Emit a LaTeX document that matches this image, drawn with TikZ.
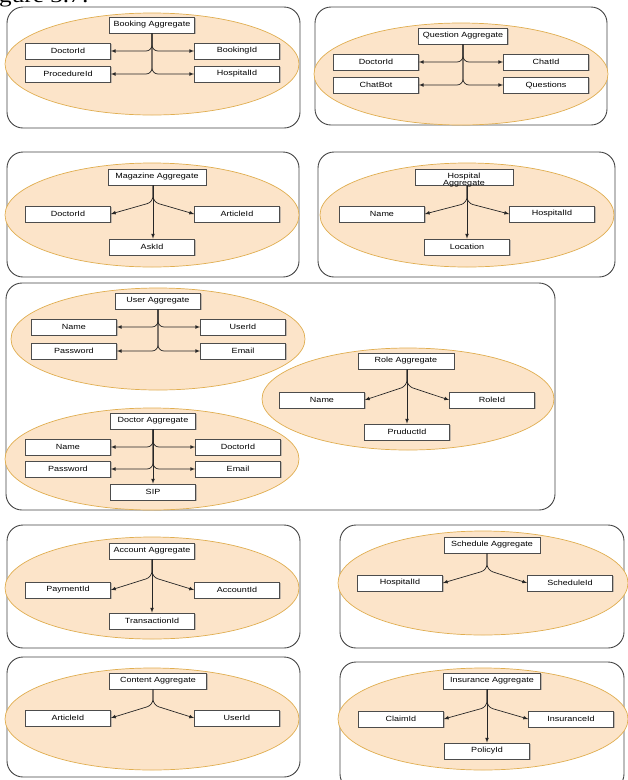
\documentclass[tikz,border=0pt]{standalone}
\usepackage{fontspec}
\setmainfont{Liberation Sans}[FakeStretch=1.2]
\newfontfamily\capfont{Liberation Serif}[FakeStretch=1.2]
\usetikzlibrary{shadows}
\definecolor{aggfill}{HTML}{FCE4C9}
\definecolor{aggline}{HTML}{E0AE50}
\definecolor{panelline}{HTML}{444444}
\begin{document}
\begin{tikzpicture}[x=1pt,y=-1pt,
panel/.style={draw=panelline,line width=.9pt,rounded corners=16pt,fill=white},
agg/.style={draw=aggline,fill=aggfill,line width=.7pt},
attr/.style={draw=black!70,fill=white,line width=.6pt,minimum width=85pt,minimum height=16pt,inner sep=1pt,font=\fontsize{7.5}{8}\selectfont,drop shadow={shadow xshift=1.2pt,shadow yshift=-1.2pt,fill=black!45}},
link/.style={draw=black!85,line width=.7pt,-latex,rounded corners=6pt}]
\useasboundingbox (0,0) rectangle (628,780);
\node[anchor=base west,inner sep=0,font=\fontsize{21}{21}\capfont] (cap) at (-1,2) {gure 3.7:};
% Booking
\draw[panel] (7,7) rectangle (300,128);
\draw[agg] (152,64) ellipse [x radius=147pt,y radius=51pt];
\node[attr] (bkagg) at (152,25) {Booking Aggregate};
\node[attr] (bkdoc) at (68,51) {DoctorId};
\node[attr] (bkproc) at (68,74) {ProcedureId};
\node[attr] (bkid) at (237,51) {BookingId};
\node[attr] (bkhosp) at (237,74) {HospitalId};
\foreach \t in {bkdoc,bkproc} \draw[link] (bkagg.south) |- (\t.east);
\foreach \t in {bkid,bkhosp} \draw[link] (bkagg.south) |- (\t.west);
% Question
\draw[panel] (315,7) rectangle (607,125);
\draw[agg] (461,74) ellipse [x radius=147pt,y radius=51pt];
\node[attr,minimum width=89pt] (qsagg) at (463,36) {Question Aggregate};
\node[attr] (qsdoc) at (376,62) {DoctorId};
\node[attr] (qsbot) at (376,85) {ChatBot};
\node[attr] (qschat) at (546,62) {ChatId};
\node[attr] (qsques) at (546,85) {Questions};
\foreach \t in {qsdoc,qsbot} \draw[link] (qsagg.south) |- (\t.east);
\foreach \t in {qschat,qsques} \draw[link] (qsagg.south) |- (\t.west);
% Magazine
\draw[panel] (7,152) rectangle (299,277);
\draw[agg] (152,215) ellipse [x radius=147pt,y radius=52pt];
\node[attr,minimum width=98pt] (mgagg) at (157,177) {Magazine Aggregate};
\node[attr] (mgdoc) at (68,214) {DoctorId};
\node[attr] (mgart) at (237,214) {ArticleId};
\node[attr] (mgask) at (152,247) {AskId};
\coordinate (mgsp) at (153,202);
\draw[link] (mgsp |- mgagg.south) -- (mgsp) -- (mgdoc.east);
\draw[link] (mgsp |- mgagg.south) -- (mgsp) -- (mgart.west);
\draw[link] (mgsp |- mgagg.south) -- (mgsp |- mgask.north);
% Hospital
\draw[panel] (318,152) rectangle (615,277);
\draw[agg] (467,215) ellipse [x radius=147pt,y radius=52pt];
\node[attr,minimum width=98pt] (hsagg) at (464,177) {};
\node[align=center,inner sep=0,font=\fontsize{7.5}{7.5}\selectfont] (hstxt) at (464,180) {Hospital\\Aggregate};
\node[attr] (hsname) at (382,214) {Name};
\node[attr] (hsid) at (552,214) {HospitalId};
\node[attr] (hsloc) at (467,247) {Location};
\coordinate (hssp) at (467,203);
\draw[link] (hssp |- hsagg.south) -- (hssp) -- (hsname.east);
\draw[link] (hssp |- hsagg.south) -- (hssp) -- (hsid.west);
\draw[link] (hssp |- hsagg.south) -- (hssp |- hsloc.north);
% User, Doctor, Role
\draw[panel] (6,283) rectangle (555,510);
\draw[agg] (408,399) ellipse [x radius=146pt,y radius=51pt];
\draw[agg] (158,339) ellipse [x radius=147pt,y radius=51pt];
\draw[agg] (152,459) ellipse [x radius=147pt,y radius=51pt];
\node[attr] (usagg) at (158,301) {User Aggregate};
\node[attr] (usname) at (74,327) {Name};
\node[attr] (uspass) at (74,351) {Password};
\node[attr] (usid) at (243,327) {UserId};
\node[attr] (usmail) at (243,351) {Email};
\foreach \t in {usname,uspass} \draw[link] (usagg.south) |- (\t.east);
\foreach \t in {usid,usmail} \draw[link] (usagg.south) |- (\t.west);
\node[attr] (dcagg) at (153,421) {Doctor Aggregate};
\node[attr] (dcname) at (68,447) {Name};
\node[attr] (dcpass) at (68,469) {Password};
\node[attr] (dcid) at (238,447) {DoctorId};
\node[attr] (dcmail) at (238,469) {Email};
\node[attr] (dcsip) at (153,492) {SIP};
\foreach \t in {dcname,dcpass} \draw[link] (dcagg.south) |- (\t.east);
\foreach \t in {dcid,dcmail} \draw[link] (dcagg.south) |- (\t.west);
\draw[link] (dcagg.south) -- (dcsip.north);
\node[attr,minimum width=96pt] (rlagg) at (406,361) {Role Aggregate};
\node[attr] (rlname) at (322,400) {Name};
\node[attr] (rlid) at (492,400) {RoleId};
\node[attr] (rlprod) at (407,432) {PruductId};
\coordinate (rlsp) at (407,386);
\draw[link] (rlsp |- rlagg.south) -- (rlsp) -- (rlname.east);
\draw[link] (rlsp |- rlagg.south) -- (rlsp) -- (rlid.west);
\draw[link] (rlsp |- rlagg.south) -- (rlsp |- rlprod.north);
% Account
\draw[panel] (7,525) rectangle (300,648);
\draw[agg] (152,588) ellipse [x radius=147pt,y radius=51pt];
\node[attr] (acagg) at (152,551) {Account Aggregate};
\node[attr] (acpay) at (68,590) {PaymentId};
\node[attr] (acid) at (237,590) {AccountId};
\node[attr] (actrans) at (152,621) {TransactionId};
\coordinate (acsp) at (152,577);
\draw[link] (acsp |- acagg.south) -- (acsp) -- (acpay.east);
\draw[link] (acsp |- acagg.south) -- (acsp) -- (acid.west);
\draw[link] (acsp |- acagg.south) -- (acsp |- actrans.north);
% Schedule
\draw[panel] (340,525) rectangle (624,648);
\draw[agg] (483,583) ellipse [x radius=145pt,y radius=52pt];
\node[attr,minimum width=96pt] (scagg) at (492,545) {Schedule Aggregate};
\node[attr] (schosp) at (400,583) {HospitalId};
\node[attr] (scid) at (570,583) {ScheduleId};
\coordinate (scsp) at (487,570);
\draw[link] (scsp |- scagg.south) -- (scsp) -- (schosp.east);
\draw[link] (scsp |- scagg.south) -- (scsp) -- (scid.west);
% Content
\draw[panel] (7,657) rectangle (300,777);
\draw[agg] (152,719) ellipse [x radius=147pt,y radius=51pt];
\node[attr,minimum width=97pt] (ctagg) at (158,681) {Content Aggregate};
\node[attr] (ctart) at (68,718) {ArticleId};
\node[attr] (ctuser) at (237,718) {UserId};
\coordinate (ctsp) at (153,705);
\draw[link] (ctsp |- ctagg.south) -- (ctsp) -- (ctart.east);
\draw[link] (ctsp |- ctagg.south) -- (ctsp) -- (ctuser.west);
% Insurance
\draw[panel] (340,662) rectangle (624,790);
\draw[agg] (483,719) ellipse [x radius=145pt,y radius=51pt];
\node[attr,minimum width=97pt] (inagg) at (492,681) {Insurance Aggregate};
\node[attr] (inclaim) at (401,719) {ClaimId};
\node[attr] (inid) at (571,719) {InsuranceId};
\node[attr] (inpol) at (487,751) {PolicyId};
\coordinate (insp) at (487,707);
\draw[link] (insp |- inagg.south) -- (insp) -- (inclaim.east);
\draw[link] (insp |- inagg.south) -- (insp) -- (inid.west);
\draw[link] (insp |- inagg.south) -- (insp |- inpol.north);
\end{tikzpicture}
\end{document}
